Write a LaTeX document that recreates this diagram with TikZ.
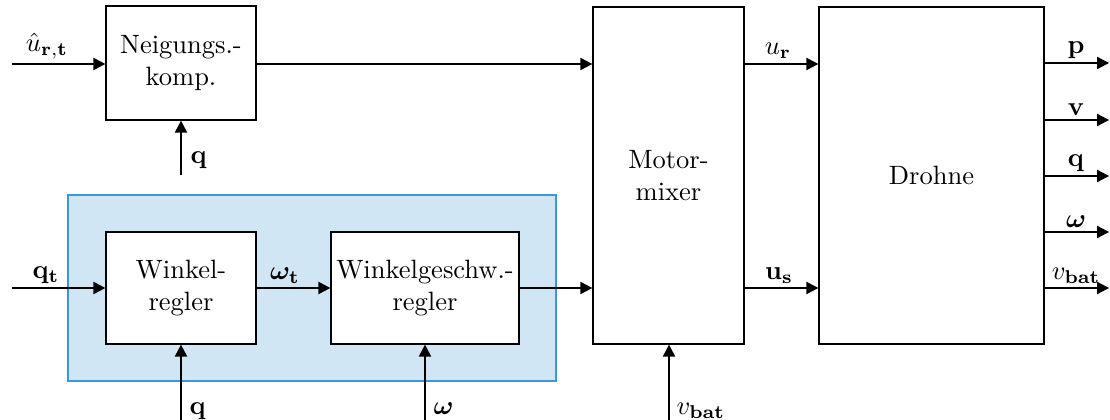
\documentclass[tikz,border=0pt]{standalone}
\usepackage{amsmath,bm}
\usetikzlibrary{arrows.meta}
\definecolor{bluef}{RGB}{208,230,244}
\definecolor{blueb}{RGB}{60,150,215}
\begin{document}
\begin{tikzpicture}[x=0.3774pt,y=-0.3774pt,
  box/.style={draw,line width=0.5pt,inner sep=0pt,align=center,fill=white},
  arr/.style={-{Triangle[length=4.5pt,width=4.6pt]},line width=0.5pt},
  lab/.style={inner sep=1.5pt}]
\useasboundingbox (0,0) rectangle (1110,420);
\node[draw=blueb, fill=bluef, line width=0.5pt, inner sep=0pt, minimum width=184.17pt, minimum height=70.20pt] (grp) at (312,288) {};
\node[box, minimum width=56.61pt, minimum height=43.02pt] (nk) at (181,63) {Neigungs.-\\komp.};
\node[box, minimum width=56.61pt, minimum height=42.27pt] (wr) at (181,288) {Winkel-\\regler};
\node[box, minimum width=70.95pt, minimum height=42.27pt] (wg) at (425,288) {Winkelgeschw.-\\regler};
\node[box, minimum width=56.99pt, minimum height=127.18pt] (mm) at (668.5,175.5) {Motor-\\mixer};
\node[box, minimum width=84.92pt, minimum height=127.18pt] (dr) at (931.5,175.5) {Drohne};
\coordinate (i1) at (12,64);
\coordinate (i2) at (12,288);
\coordinate (q1) at (181,175);
\coordinate (q2) at (181,420);
\coordinate (w2) at (425,420);
\coordinate (vb) at (669,420);
\draw[arr] (i1) -- (i1 -| nk.west);
\draw[arr] (nk.east |- i1) -- (i1 -| mm.west);
\draw[arr] (q1) -- (q1 |- nk.south);
\draw[arr] (i2) -- (i2 -| wr.west);
\draw[arr] (wr.east |- i2) -- (i2 -| wg.west);
\draw[arr] (wg.east |- i2) -- (i2 -| mm.west);
\draw[arr] (q2) -- (q2 |- wr.south);
\draw[arr] (w2) -- (w2 |- wg.south);
\draw[arr] (vb) -- (vb |- mm.south);
\draw[arr] (mm.east |- i1) -- (i1 -| dr.west);
\draw[arr] (mm.east |- i2) -- (i2 -| dr.west);
\foreach \n/\y in {1/63,2/120,3/176,4/232,5/288}{
  \coordinate (o\n) at (1109,\y);
  \draw[arr] (dr.east |- o\n) -- (o\n);
}
% labels
\node[lab,anchor=south] (l1) at (47,64) {$\hat{u}_{\mathbf{r},\mathbf{t}}$};
\node[lab,anchor=west] (l2) at (186,160) {$\mathbf{q}$};
\node[lab,anchor=south] (l3) at (46,288) {$\mathbf{q}_{\mathbf{t}}$};
\node[lab,anchor=south] (l4) at (285,288) {$\bm{\omega}_{\mathbf{t}}$};
\node[lab,anchor=base west] (l5) at (185,415) {$\mathbf{q}$};
\node[lab,anchor=base west] (l6) at (429,415) {$\bm{\omega}$};
\node[lab,anchor=base west] (l7) at (672,415) {$v_{\mathbf{bat}}$};
\node[lab,anchor=south] (l8) at (778,63) {$u_{\mathbf{r}}$};
\node[lab,anchor=south] (l9) at (779,288) {$\mathbf{u}_{\mathbf{s}}$};
\node[lab,anchor=south] (p1) at (1076,63) {$\mathbf{p}$};
\node[lab,anchor=south] (p2) at (1076,120) {$\mathbf{v}$};
\node[lab,anchor=south] (p3) at (1076,176) {$\mathbf{q}$};
\node[lab,anchor=south] (p4) at (1076,232) {$\bm{\omega}$};
\node[lab,anchor=south] (p5) at (1076,288) {$v_{\mathbf{bat}}$};
\end{tikzpicture}
\end{document}
